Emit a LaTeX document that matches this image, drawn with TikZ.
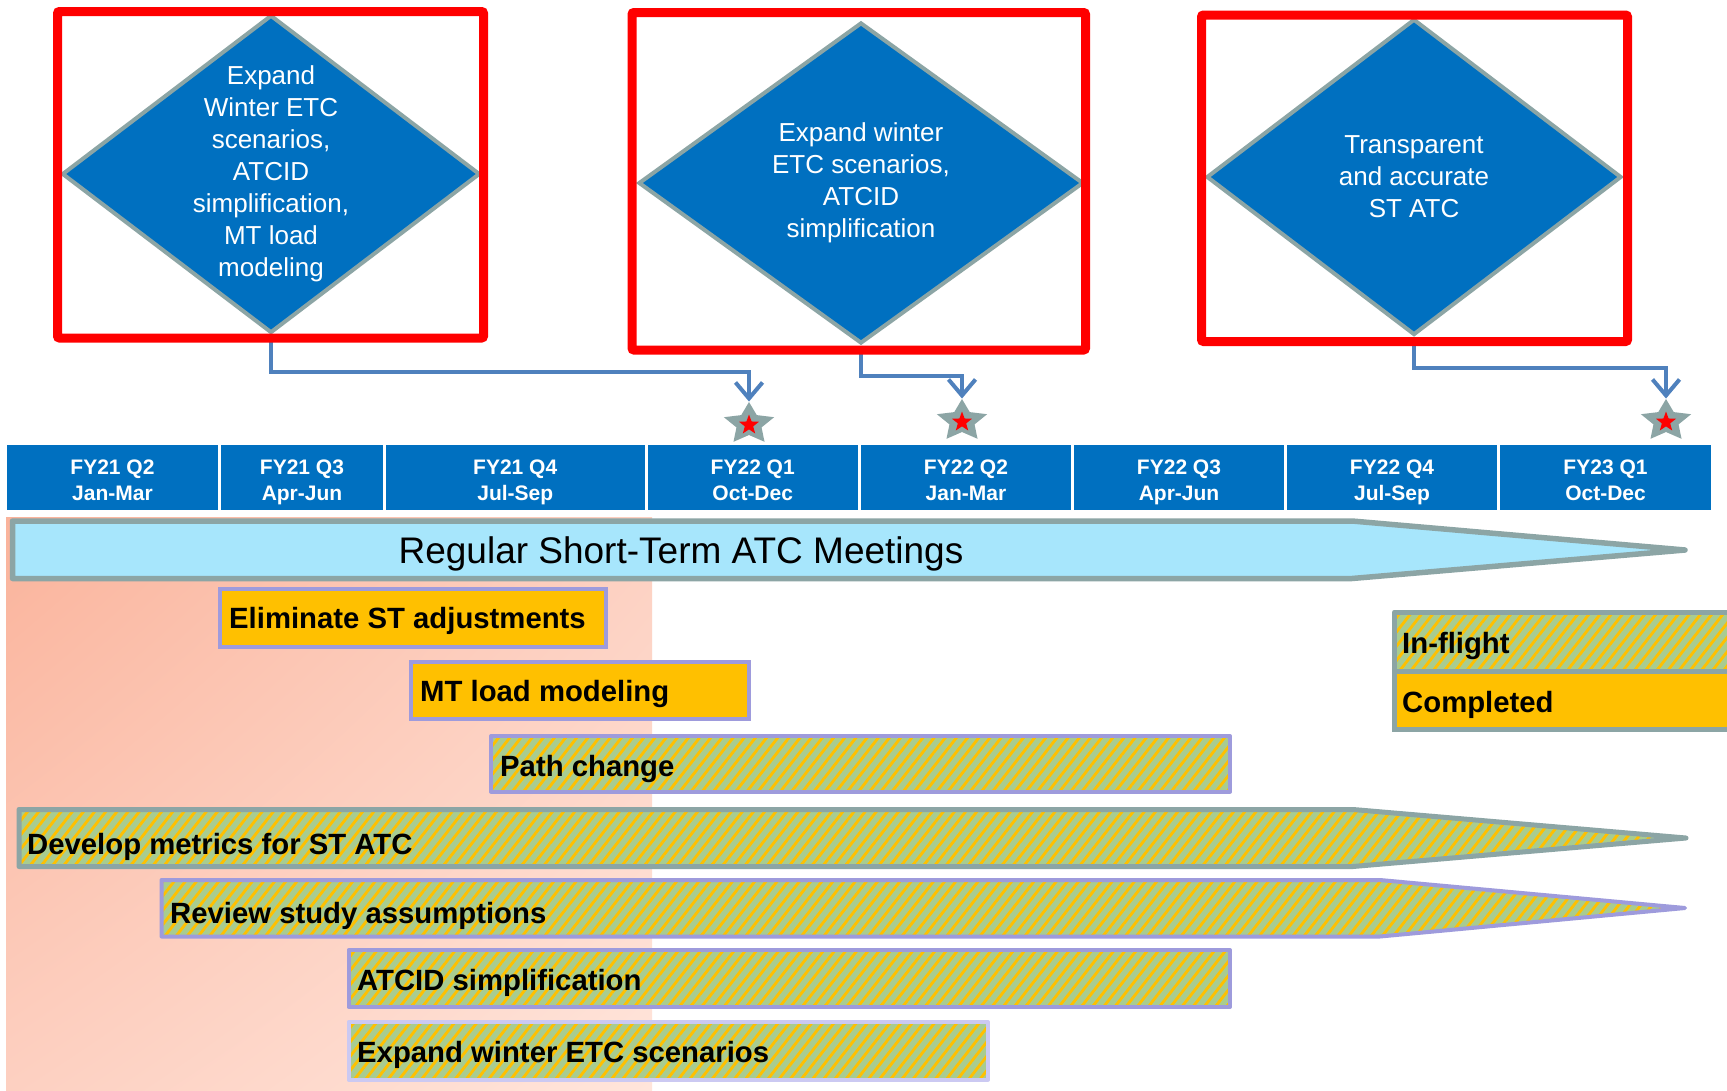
\documentclass[tikz,border=0pt]{standalone}
\usepackage{fontspec}
\setmainfont{Liberation Sans}
\usetikzlibrary{shapes.geometric,arrows.meta,patterns.meta,shadings}

\definecolor{redline}{HTML}{FF0000}
\definecolor{goalblue}{HTML}{0070C0}
\definecolor{edgegrey}{HTML}{8CA5A5}
\definecolor{linkblue}{HTML}{4F81BD}
\definecolor{meetblue}{HTML}{A7E6FC}
\definecolor{doneorange}{HTML}{FFC000}
\definecolor{barlilac}{HTML}{9E9BDC}
\definecolor{palelilac}{HTML}{CBC9F2}
\definecolor{hatchgreen}{HTML}{A8CC90}
\definecolor{salmonA}{HTML}{FAB39B}
\definecolor{salmonB}{HTML}{FDD0C1}
\definecolor{salmonC}{HTML}{FFE5DB}

\tikzset{
	goalbox/.style={draw=redline, line width=9pt, rounded corners=2pt},
	goal/.style={diamond, fill=goalblue, draw=edgegrey, line width=4pt, inner sep=0pt},
	goaltext/.style={text=white, align=center, inner sep=0pt, font=\fontsize{26}{32}\selectfont},
	link/.style={draw=linkblue, line width=4pt, -{Straight Barb[length=16pt,width=27pt]}},
	mstar/.style={star, star points=5, star point ratio=2, fill=edgegrey, inner sep=0pt, minimum size=44pt, xscale=1.2},
	mdot/.style={star, star points=5, star point ratio=2.4, fill=redline, inner sep=0pt, minimum size=21pt},
	quarter/.style={rectangle, fill=goalblue, draw=white, line width=3pt, minimum height=68pt, inner sep=0pt},
	qtext/.style={anchor=base, inner sep=0pt, text=white, font=\bfseries\fontsize{21}{26}\selectfont},
	meeting/.style={fill=meetblue, draw=edgegrey, line width=5.5pt, line join=round},
	completed/.style={fill=doneorange, draw=barlilac, line width=4pt},
	inflight/.style={preaction={fill=hatchgreen}, pattern={Lines[angle=52,distance=8.8pt,line width=2.8pt]}, pattern color=doneorange, draw=barlilac, line width=4pt, line join=round},
	legendbox/.style={draw=edgegrey, line width=5pt},
	tasklabel/.style={anchor=base west, inner sep=0pt, font=\bfseries\fontsize{29.3}{34}\selectfont},
}

\begin{document}
\begin{tikzpicture}[x=1pt,y=-1pt]
	\useasboundingbox (0,0) rectangle (1727,1090);
	\clip (0,0) rectangle (1727,1090); % the legend runs off the right edge
	\fill[white] (0,0) rectangle (1727,1090);

	% shaded first year behind the bars
	\shade[upper left=salmonA, upper right=salmonB, lower left=salmonB, lower right=salmonC] (6,517) rectangle (652,1090);

	\draw[meeting] (12.5,521) -- (1352,521) -- (1685,550) -- (1352,578.5) -- (12.5,578.5) -- cycle;
	\node[anchor=base, inner sep=0pt, font=\fontsize{37}{40}\selectfont] (Meetings) at (681,563) {Regular Short-Term ATC Meetings};

	% task bars
	\draw[completed] (220,589) rectangle (606,646.5);
	\node[tasklabel] (Eliminate) at (229,628) {Eliminate ST adjustments};
	\draw[completed] (411,662) rectangle (749,719);
	\node[tasklabel] (MTLoad) at (420,701) {MT load modeling};
	\draw[inflight] (491,736) rectangle (1230,791.5);
	\node[tasklabel] (PathChange) at (500,776) {Path change};
	\draw[inflight, draw=edgegrey, line width=5pt] (19,809.5) -- (1353,809.5) -- (1686,838) -- (1353,866.5) -- (19,866.5) -- cycle;
	\node[tasklabel] (Metrics) at (27,854) {Develop metrics for ST ATC};
	\draw[inflight] (161.5,880) -- (1380,880) -- (1685,908) -- (1380,936.5) -- (161.5,936.5) -- cycle;
	\node[tasklabel] (Review) at (170,923) {Review study assumptions};
	\draw[inflight] (348.5,950) rectangle (1230,1007);
	\node[tasklabel] (Atcid) at (357,990) {ATCID simplification};
	\draw[inflight, draw=palelilac] (348.5,1022) rectangle (988,1079.5);
	\node[tasklabel] (Winter) at (357,1062) {Expand winter ETC scenarios};

	% legend
	\draw[inflight, legendbox] (1394.5,612) rectangle (1745,671);
	\node[tasklabel] (InFlight) at (1402,653) {In-flight};
	\draw[completed, legendbox] (1394.5,671) rectangle (1745,729.5);
	\node[tasklabel] (Completed) at (1402,712) {Completed};

	% quarters
	\foreach \Xa/\Xb/\Yr/\Mo [count=\i] in {5.5/219.5/FY21 Q2/Jan-Mar, 219.5/384.5/FY21 Q3/Apr-Jun, 384.5/646/FY21 Q4/Jul-Sep, 646/859.5/FY22 Q1/Oct-Dec, 859.5/1072.5/FY22 Q2/Jan-Mar, 1072.5/1285.5/FY22 Q3/Apr-Jun, 1285.5/1498.5/FY22 Q4/Jul-Sep, 1498.5/1712.5/FY23 Q1/Oct-Dec}{
		\node[quarter, minimum width={\Xb-\Xa}] (Qtr\i) at ({(\Xa+\Xb)/2},477.5) {};
		\node[qtext] (QtrYr\i) at ({(\Xa+\Xb)/2},474) {\Yr};
		\node[qtext] (QtrMo\i) at ({(\Xa+\Xb)/2},500) {\Mo};
	}

	% milestones
	\node[mstar] (StarA) at (749,424) {};
	\node[mdot] (DotA) at (749,425) {};
	\node[mstar] (StarB) at (962,421) {};
	\node[mdot] (DotB) at (962,422) {};
	\node[mstar] (StarC) at (1666,421) {};
	\node[mdot] (DotC) at (1666,422) {};

	% goals
	\node[goal, minimum width=418pt, minimum height=318pt] (GoalA) at (271,174) {};
	\node[goaltext] (GoalAText) at (GoalA) {Expand\\Winter ETC\\scenarios,\\ATCID\\simplification,\\MT load\\modeling};
	\node[goal, minimum width=445pt, minimum height=321pt] (GoalB) at (861,183) {};
	\node[goaltext] (GoalBText) at (GoalB) {Expand winter\\ETC scenarios,\\ATCID\\simplification};
	\node[goal, minimum width=415pt, minimum height=316pt] (GoalC) at (1414,177) {};
	\node[goaltext] (GoalCText) at (GoalC) {Transparent\\and accurate\\ST ATC};

	\draw[link] (GoalA.south) -- ++(0,37) -| (StarA.north);
	\draw[link] (GoalB.south) -- ++(0,30) -| (StarB.north);
	\draw[link] (GoalC.south) -- ++(0,31) -| (StarC.north);

	\draw[goalbox] (57.5,11.5) rectangle (483.5,338);
	\draw[goalbox] (632,12.5) rectangle (1085.5,350);
	\draw[goalbox] (1201.5,15) rectangle (1627.5,341.5);
\end{tikzpicture}
\end{document}
